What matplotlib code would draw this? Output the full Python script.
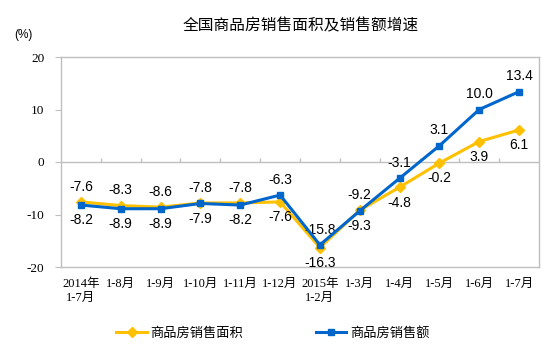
import numpy as np
import matplotlib
matplotlib.use('Agg')
import matplotlib.pyplot as plt

plt.rcParams['font.family'] = ['Liberation Sans', 'Noto Sans CJK SC', 'DejaVu Sans']

categories = ['2014年\n1-7月', '1-8月', '1-9月', '1-10月', '1-11月', '1-12月',
              '2015年\n1-2月', '1-3月', '1-4月', '1-5月', '1-6月', '1-7月']
area = [-7.6, -8.3, -8.6, -7.8, -7.8, -7.6, -16.3, -9.2, -4.8, -0.2, 3.9, 6.1]
amount = [-8.2, -8.9, -8.9, -7.9, -8.2, -6.3, -15.8, -9.3, -3.1, 3.1, 10.0, 13.4]
yticks = [-20, -10, 0, 10, 20]

yellow = '#FFC000'
blue = '#0066CC'
grey = '#BFBFBF'

fig = plt.figure(figsize=(5.54, 3.53), dpi=100)
ax = fig.add_axes([61 / 554, 1 - 267 / 353, 478 / 554, 210 / 353])

x = np.arange(len(categories))
ax.plot(x, area, color=yellow, lw=2.2, marker='D', ms=5, label='商品房销售面积', zorder=3)
ax.plot(x, amount, color=blue, lw=2.2, marker='s', ms=5, label='商品房销售额', zorder=4)

# labels: higher series above, lower series below
for i in range(len(x)):
    for v, other in ((area[i], amount[i]), (amount[i], area[i])):
        if v >= other:
            ax.annotate(f'{v:.1f}', (x[i], v), xytext=(0, 6), textcoords='offset points',
                        ha='center', va='bottom', fontsize=10)
        else:
            ax.annotate(f'{v:.1f}', (x[i], v), xytext=(0, -6), textcoords='offset points',
                        ha='center', va='top', fontsize=10)

ax.set_xlim(-0.5, len(x) - 0.5)
ax.set_ylim(-20, 20)
ax.set_yticks(yticks)
ax.set_yticklabels([str(t) for t in yticks], fontsize=9.5, family='Liberation Serif')
ax.set_xticks(x)
ax.set_xticklabels(categories, fontsize=9, family=['Liberation Serif', 'Noto Sans CJK SC'],
                   linespacing=1.2)
ax.tick_params(axis='x', length=0, pad=8)
ax.tick_params(axis='y', length=4, color=grey, pad=8)
for s in ax.spines.values():
    s.set_color(grey)
    s.set_linewidth(1)

ax.axhline(0, color=grey, lw=1, zorder=1)
ax.vlines(x[:-1] + 0.5, 0, 0.8, color=grey, lw=1, zorder=1)

fig.text(0.5425, 0.927, '全国商品房销售面积及销售额增速', ha='center', va='center',
         fontsize=11.3, family=['Noto Sans CJK SC'])
fig.text(0.025, 0.9, '(%)', ha='left', va='center', fontsize=8.5)

fig.legend(loc='center', bbox_to_anchor=(0.493, 0.057), ncol=2, frameon=False,
           prop={'family': ['Noto Sans CJK SC'], 'size': 9.5},
           handlelength=2.3, columnspacing=5.5, handletextpad=0.3)

fig.savefig('out.png', dpi=100)
